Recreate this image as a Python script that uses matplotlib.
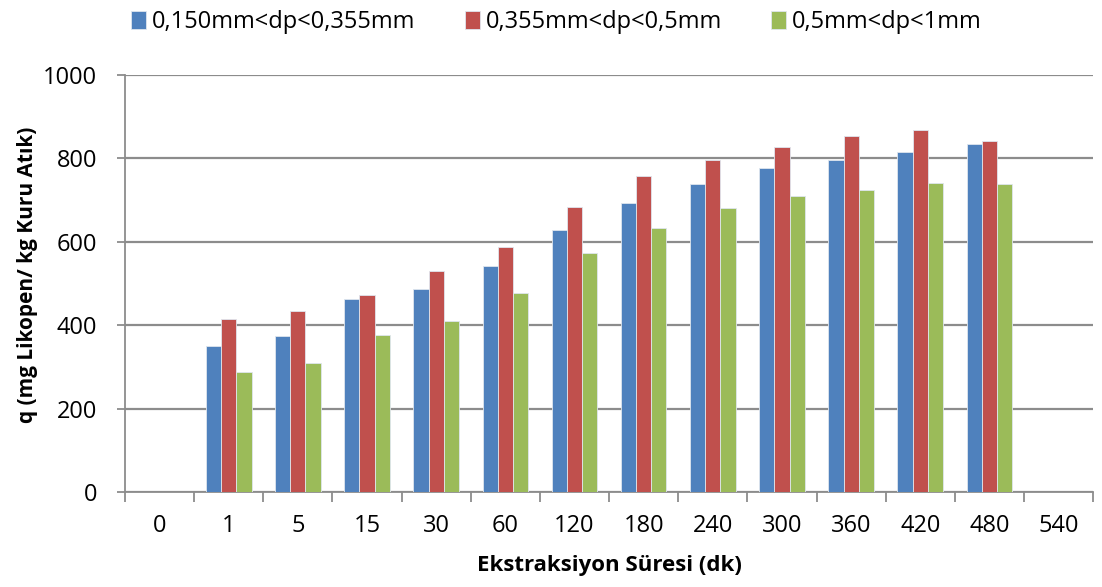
import numpy as np
import matplotlib
matplotlib.use('Agg')
from matplotlib import pyplot as plt

plt.rcParams['font.family'] = ['Open Sans', 'DejaVu Sans']

categories = ['0', '1', '5', '15', '30', '60', '120', '180', '240', '300', '360', '420', '480', '540']
series_names = ['0,150mm<dp<0,355mm', '0,355mm<dp<0,5mm', '0,5mm<dp<1mm']
# nan for empty categories (0 and 540)
blue = [np.nan, 350, 374, 464, 486, 542, 628, 693, 739, 776, 796, 816, 834, np.nan]
red = [np.nan, 416, 435, 473, 530, 588, 683, 757, 797, 828, 853, 868, 841, np.nan]
green = [np.nan, 287, 310, 376, 410, 477, 573, 634, 682, 709, 725, 742, 738, np.nan]
colors = ['#4F81BD', '#C0504D', '#9BBB59']

fig = plt.figure(figsize=(11.02, 5.87), dpi=100)
ax = fig.add_axes([0.1134, 0.162, 0.8786, 0.710])

x = np.arange(len(categories))
w = 0.22
for i, vals in enumerate([blue, red, green]):
    ax.bar(x + (i - 1) * w, vals, width=w, color=colors[i], edgecolor='#dfe6ee',
           linewidth=0.6, label=series_names[i], zorder=3)

ax.set_xlim(-0.5, len(categories) - 0.5)
ax.set_ylim(0, 1000)
ax.set_yticks(range(0, 1001, 200))
ax.yaxis.grid(True, color='#8c8c8c', linewidth=1.6, zorder=0)
ax.set_axisbelow(True)

ax.set_xticks(x)
ax.set_xticklabels(categories, fontsize=17)
ax.set_xticks(np.arange(-0.5, len(categories)), minor=True)
ax.tick_params(axis='x', which='major', length=0, pad=16)
ax.tick_params(axis='x', which='minor', length=7, color='#8c8c8c', width=1.3)
ax.tick_params(axis='y', length=6, color='#8c8c8c', width=1.3, labelsize=17, pad=14)

for s in ['top', 'right']:
    ax.spines[s].set_visible(False)
for s in ['left', 'bottom']:
    ax.spines[s].set_color('#8c8c8c')
    ax.spines[s].set_linewidth(1.3)

ax.set_xlabel('Ekstraksiyon Süresi (dk)', fontsize=16, fontweight='bold', labelpad=12)
ax.set_ylabel('q (mg Likopen/ kg Kuru Atık)', fontsize=15, fontweight='bold', labelpad=10)
ax.yaxis.set_label_coords(-0.09, 0.52)

ax.legend(loc='center', bbox_to_anchor=(0.505, 0.962), bbox_transform=fig.transFigure,
          ncol=3, frameon=False, fontsize=17, handlelength=0.62, handleheight=0.75,
          handletextpad=0.25, columnspacing=2.1, borderpad=0)

fig.savefig('out.png', dpi=100)
